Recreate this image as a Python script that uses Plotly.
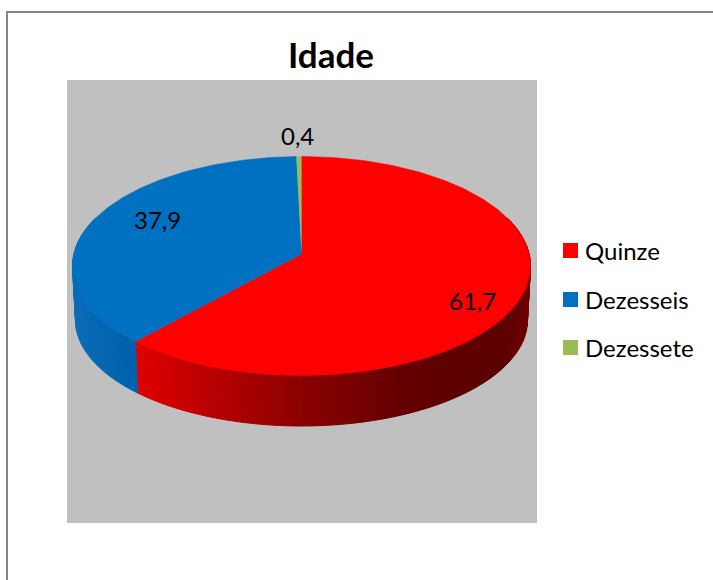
import numpy as np
import plotly.graph_objects as go

categories = ["Quinze", "Dezesseis", "Dezessete"]
values = [61.7, 37.9, 0.4]
top_colors = ["#FF0000", "#0070C0", "#9BBB59"]

# geometry of the tilted pie, in axis units (the axes span the whole page, one unit = one pixel)
FONT = "Lato"
TOP = dict(cx=301.5, cy=266.0, rx=229.0, ry=109.5)
BOTTOM = dict(cx=301.5, cy=320.0, rx=226.0, ry=106.0)
PERSPECTIVE = 0.109
label_x = [472, 157, 297]
label_y = [300, 219, 135]
key_x = 570.5
key_text_x = 585
key_y = [250.5, 299.5, 347.5]

# wall shading along the horizontal position
shade_x = [75, 137, 200, 300, 400, 500, 530]
shade_red = [224, 224, 190, 140, 100, 92, 110]
shade_blue = [(10, 108, 184), (0, 96, 170), (0, 90, 160), (0, 90, 160), (0, 90, 160), (0, 90, 160), (0, 90, 160)]


def project(theta, e):
    X, Z = np.sin(theta), np.cos(theta)
    p = PERSPECTIVE
    d = 1 + p * Z
    return (e["cx"] + e["rx"] * np.sqrt(1 - p * p) * X / d,
            e["cy"] - e["ry"] * (Z + p) / d)


def wall_color(i, x):
    if i == 0:
        return f"rgb({int(np.interp(x, shade_x, shade_red))},0,0)"
    if i == 1:
        c = [np.interp(x, shade_x, [s[k] for s in shade_blue]) for k in range(3)]
        return f"rgb({int(c[0])},{int(c[1])},{int(c[2])})"
    return "#7d9647"


fig = go.Figure()
edges = np.cumsum([0] + values) / sum(values) * 2 * np.pi

# side walls: only the part facing the viewer
for i in range(len(values)):
    a, b = max(edges[i], np.radians(70)), min(edges[i + 1], np.radians(290))
    if b <= a:
        continue
    n = max(2, int(np.degrees(b - a) / 2))
    ts = np.linspace(a, b, n + 1)
    for t0, t1 in zip(ts[:-1], ts[1:]):
        seg = np.array([t0, t1])
        xt, yt = project(seg, TOP)
        xb, yb = project(seg[::-1], BOTTOM)
        col = wall_color(i, float(np.mean(xt)))
        fig.add_trace(go.Scatter(
            x=np.r_[xt, xb, xt[0]], y=np.r_[yt, yb, yt[0]], mode="lines",
            fill="toself", fillcolor=col, line=dict(color=col, width=1),
            hoverinfo="skip", showlegend=False))

# top face
for i, (v, col) in enumerate(zip(values, top_colors)):
    n = max(2, int(v * 3))
    ts = np.linspace(edges[i], edges[i + 1], n + 1)
    xs, ys = project(ts, TOP)
    ax, ay = TOP["cx"], TOP["cy"] - TOP["ry"] * PERSPECTIVE
    fig.add_trace(go.Scatter(
        x=np.r_[ax, xs, ax], y=np.r_[ay, ys, ay], mode="lines", fill="toself",
        fillcolor=col, line=dict(color=col, width=0.5 if v > 1 else 0),
        hoverinfo="skip", showlegend=False))

# colour key beside the plot area
fig.add_trace(go.Scatter(
    x=[key_x] * len(categories), y=key_y, mode="markers",
    marker=dict(symbol="square", size=15, color=top_colors, line=dict(width=0)), showlegend=False,
    text=categories, hoverinfo="text"))
for name, ky in zip(categories, key_y):
    fig.add_annotation(x=key_text_x, y=ky, text=name, showarrow=False, xanchor="left",
                       xshift=-2, font=dict(family=FONT, size=24, color="#000000"))

# data labels
for v, lx, ly in zip(values, label_x, label_y):
    fig.add_annotation(x=lx, y=ly, text=f"{v:.1f}".replace(".", ","), showarrow=False,
                       font=dict(family=FONT, size=24, color="#000000"))

W, H = 713, 580
L, R, T, B = 67, 537, 80, 523
fig.update_layout(
    width=W, height=H, autosize=False, showlegend=False,
    margin=dict(l=0, r=0, t=0, b=0, pad=0),
    paper_bgcolor="#FFFFFF", plot_bgcolor="rgba(0,0,0,0)",
    title=dict(text="<b>Idade</b>", x=331 / W, y=1 - 56 / H, xanchor="center", yanchor="middle",
               font=dict(family=FONT, size=35, color="#000000")),
    xaxis=dict(range=[0, W], visible=False, fixedrange=True),
    yaxis=dict(range=[H, 0], visible=False, fixedrange=True),
    shapes=[
        dict(type="rect", xref="x", yref="y", layer="below", x0=L, x1=R, y0=T, y1=B,
             fillcolor="#C0C0C0", line=dict(width=0)),
        dict(type="rect", xref="x", yref="y", layer="below", x0=7, x1=W + 20, y0=12, y1=H + 20,
             line=dict(color="#868686", width=2)),
    ],
)
fig.write_html("out.html", config={"displayModeBar": False},
               post_script="document.body.style.margin='0';document.documentElement.style.overflow='hidden';")
